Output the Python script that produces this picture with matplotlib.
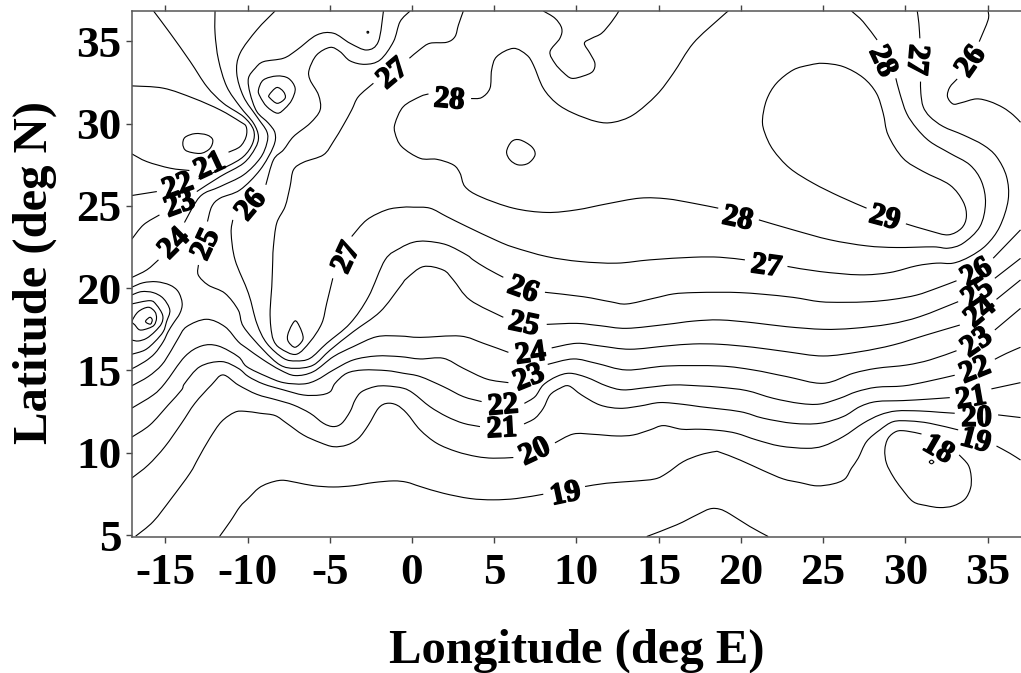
import matplotlib
matplotlib.use("Agg")
import matplotlib.pyplot as plt
from matplotlib.path import Path
from matplotlib.patches import PathPatch
import matplotlib.patheffects as pe

# ---- isotherm traces, (longitude deg E, latitude deg N), split where labels interrupt ----
t18_south = [(14.27,4.91),(16.09,5.62),(17.3,6.22),(18.11,6.59),(18.72,6.57),(19.33,6.28),(20.54,5.52),(21.66,4.91)]
t18_loop = [(30.98,11.14),(30.07,11.32),(29.46,11.30),(28.95,10.88),(28.75,10.17),(28.85,9.36),(29.26,8.55),(29.76,7.84),(30.47,7.03),(31.28,6.79),(32.09,6.67),(32.9,6.77),(33.61,7.17),(33.96,7.84),(34.0,8.55),(33.82,9.26),(33.27,9.87)]
t18_core = [(31.45,9.44),(31.59,9.55),(31.73,9.44),(31.59,9.33)]

t19_a = [(-11.71,4.91),(-11.06,5.82),(-10.46,6.73),(-9.95,7.24),(-9.34,7.84),(-8.73,8.15),(-7.92,8.33),(-7.01,8.19),(-6.0,8.0),(-4.78,7.92),(-3.57,8.0),(-2.35,8.19),(-1.13,8.29),(-0.32,8.21),(0.49,7.95),(1.9,7.54),(3.53,7.22),(4.94,7.14),(6.36,7.22),(7.98,7.48)]
t19_b = [(10.52,7.95),(11.83,8.15),(13.45,8.27),(14.77,8.41),(15.48,8.75),(16.49,9.46),(17.51,9.87),(18.42,10.07),(18.72,10.03),(19.94,9.56),(21.35,8.92),(22.57,8.41),(23.58,8.19),(24.6,7.99),(25.61,8.11),(26.32,8.41),(26.72,9.06),(27.13,9.67),(27.64,10.68),(28.45,11.39),(29.26,11.89),(30.27,11.93),(31.49,11.79),(33.21,11.39)]
t19_c = [(35.54,10.41),(36.35,9.97),(37.0,9.56)]

t20_a = [(-16.81,4.93),(-15.74,5.82),(-14.63,7.23),(-13.51,8.75),(-13.0,9.66),(-12.3,10.88),(-11.59,11.89),(-10.78,12.46),(-10.17,12.52),(-9.24,12.40),(-8.33,12.26),(-7.62,11.79),(-6.61,11.08),(-5.59,10.62),(-4.78,10.37),(-3.97,10.47),(-3.26,10.88),(-2.65,11.69),(-2.05,12.70),(-1.54,13.0),(-0.93,12.9),(-0.32,12.4),(0.49,11.39),(1.5,10.58),(2.71,10.07),(3.93,9.77),(4.94,9.67),(6.16,9.71)]
t20_b = [(8.69,10.6),(9.81,11.14),(11.02,11.12),(12.44,11.02),(13.45,11.08),(14.47,11.39),(15.28,11.65),(16.39,11.43),(17.51,11.43),(18.72,11.35),(19.73,11.18),(20.95,10.78),(22.37,10.41),(23.99,10.27),(25.0,10.41),(26.22,10.98),(27.43,11.79),(28.45,12.3),(29.46,12.54),(30.88,12.54),(32.09,12.46),(33.0,12.4)]
t20_c = [(35.64,12.3),(37.0,12.14)]

t21_a = [(-17.06,8.45),(-16.04,9.26),(-15.03,10.37),(-14.02,11.79),(-13.21,13.0),(-12.2,14.12),(-11.5,14.73),(-10.57,14.12),(-9.44,13.55),(-8.23,13.21),(-7.21,12.9),(-6.2,12.4),(-5.39,11.79),(-4.78,11.59),(-4.27,11.79),(-3.77,12.5),(-3.46,13.21),(-3.06,13.71),(-2.25,14.02),(-1.54,14.06),(-0.53,13.92),(0.08,13.61),(1.09,12.8),(2.11,12.2),(3.12,11.79),(4.13,11.59)]
t21_b = [(6.81,11.75),(7.48,12.1),(7.98,12.7),(8.39,13.51),(9.0,13.92),(9.54,14.06),(10.31,13.51),(11.43,12.9),(12.64,12.7),(13.86,12.84),(15.08,13.05),(16.49,12.94),(17.51,12.8),(19.94,12.5),(21.35,12.1),(23.18,11.79),(24.8,11.79),(26.22,12.2),(27.23,12.8),(28.24,13.11),(29.86,13.17),(31.28,13.25),(32.7,13.35)]
t21_c = [(35.23,13.88),(37.0,14.26)]
t21_d = [(-17.04,32.29),(-15.12,32.15),(-13.29,31.54),(-11.67,30.83),(-10.46,30.12),(-10.09,29.82),(-10.09,29.21),(-10.46,28.6),(-11.16,28.26)]
t21_e = [(-13.54,27.15),(-14.71,27.29),(-16.13,27.69),(-17.04,28.16)]

t22_a = [(-17.04,25.63),(-15.52,25.87)]
t22_b = [(-12.99,26.64),(-11.27,27.39),(-10.25,28.0),(-9.69,28.81),(-9.64,29.62),(-10.25,30.42),(-11.47,31.23),(-12.48,32.25),(-13.49,33.77),(-14.71,35.49),(-15.72,36.84)]
t22_c = [(-17.06,10.94),(-15.94,11.69),(-14.83,12.9),(-14.02,13.81),(-13.82,14.22),(-12.9,15.23),(-11.59,15.54),(-10.57,15.13),(-9.95,14.63),(-9.04,14.18),(-7.82,13.82),(-6.61,13.51),(-5.59,13.51),(-4.98,13.71),(-4.68,14.22),(-3.97,14.83),(-2.96,15.03),(-1.54,14.99),(-0.53,14.83),(0.49,14.63),(1.9,14.02),(3.12,13.41),(4.23,13.11)]
t22_d = [(6.83,13.0),(7.48,13.41),(7.98,14.12),(8.79,14.63),(9.6,14.83),(10.62,14.58),(11.83,14.06),(12.85,13.82),(14.27,13.96),(15.89,14.12),(17.51,14.06),(18.72,13.98),(20.34,13.78),(21.96,13.31),(23.58,13.0),(24.8,12.96),(26.01,13.31),(27.03,13.71),(28.24,13.98),(29.86,14.06),(31.28,14.32),(33.0,14.71)]
t22_e = [(35.44,15.68),(36.15,16.04),(37.0,16.41)]

t23_a = [(-17.04,22.98),(-16.33,23.85),(-15.36,24.45)]
t23_b = [(-13.09,25.87),(-11.67,26.78),(-10.25,27.59),(-9.54,28.5),(-9.34,29.21),(-9.64,30.02),(-10.46,31.03),(-11.27,32.25),(-11.77,33.87),(-11.98,35.49),(-11.98,36.84)]
t23_c = [(-17.06,12.7),(-15.74,13.51),(-15.03,14.22),(-13.82,15.84),(-12.8,16.49),(-11.79,16.49),(-10.57,15.84),(-10.05,15.23),(-8.83,14.63),(-7.82,14.26),(-6.61,14.18),(-5.8,14.42),(-4.78,15.03),(-3.57,15.64),(-2.15,15.88),(-0.73,15.84),(0.49,15.7),(1.9,15.74),(3.12,15.13),(4.54,14.48),(5.86,14.26)]
t23_d = [(8.25,15.37),(9.81,15.7),(11.23,15.43),(13.05,15.03),(15.48,15.27),(18.72,15.27),(20.75,15.03),(22.77,14.63),(25.0,14.22),(26.83,14.83),(28.24,15.13),(30.07,15.33),(31.49,15.64),(33.11,16.2)]
t23_e = [(35.44,17.46),(37.0,18.77)]

t24_a = [(-17.04,20.65),(-16.13,21.11),(-15.42,21.72)]
t24_b = [(-13.84,23.99),(-12.89,25.57),(-11.67,26.17),(-10.25,26.88),(-9.24,27.89),(-8.83,28.81),(-8.83,29.51),(-9.44,30.42),(-10.25,31.64),(-10.66,33.06),(-10.46,34.27),(-9.44,35.69),(-8.33,36.84)]
t24_c = [(-17.06,14.06),(-16.04,14.63),(-15.23,15.33),(-14.63,16.24),(-14.22,16.95),(-13.71,17.66),(-12.5,18.11),(-11.38,17.66),(-10.57,16.75),(-10.05,16.35),(-9.04,15.64),(-8.02,15.03),(-7.11,14.69),(-6.0,14.93),(-4.78,15.84),(-3.57,16.45),(-2.15,17.05),(-0.73,17.09),(0.49,17.01),(2.92,17.09),(4.34,16.65),(5.86,16.1)]
t24_d = [(8.49,16.37),(10.01,16.65),(11.43,16.49),(13.25,16.29),(15.48,16.49),(17.1,16.61),(18.72,16.59),(20.75,16.41),(22.77,16.14),(25.0,15.88),(27.23,16.14),(29.26,16.55),(31.28,17.16),(33.31,17.76)]
t24_e = [(35.54,19.32),(37.0,20.5)]

t25_a = [(-1.74,36.84),(-2.05,34.98),(-2.75,34.47),(-3.77,34.88),(-4.78,35.49),(-5.8,35.38),(-7.01,34.47),(-7.82,33.97),(-9.04,33.76),(-9.54,33.36),(-9.95,32.75),(-9.85,31.84),(-9.44,30.73),(-8.73,30.02),(-8.33,29.41),(-8.43,28.6),(-9.24,27.19),(-10.46,25.97),(-11.67,25.47),(-12.18,24.96),(-12.44,24.05)]
t25_b = [(-12.99,21.41),(-13.0,20.8),(-12.4,20.19),(-11.38,19.69),(-10.57,18.67),(-10.25,17.66),(-9.04,16.24),(-8.02,15.33),(-7.11,15.13),(-6.0,15.33),(-4.98,16.24),(-3.57,17.36),(-1.94,18.57),(-0.73,20.09),(-0.32,20.6),(0.69,21.31),(1.9,21.1),(2.51,20.5),(3.53,19.28),(5.55,18.23)]
t25_c = [(8.19,17.8),(10.01,17.86),(11.43,17.72),(13.05,17.56),(15.48,17.8),(17.1,18.0),(18.72,18.07),(20.75,17.9),(22.77,17.66),(25.0,17.5),(26.83,17.56),(29.05,17.82),(30.88,18.27),(33.21,19.18)]
t25_d = [(35.44,20.6),(37.0,21.81)]

t26_a = [(35.03,36.84),(35.03,36.3),(34.49,34.98)]
t26_b = [(33.15,32.71),(32.7,32.21),(32.56,31.64),(32.9,31.19),(33.41,31.27),(34.32,31.5),(35.13,31.34),(35.94,30.97),(36.55,30.53),(37.0,30.08)]
t26_c = [(37.0,23.54),(35.34,21.82)]
t26_d = [(33.11,20.45),(31.89,19.99),(30.68,19.58),(29.26,19.32),(27.84,19.18),(26.22,19.14),(24.8,19.18),(23.18,19.44),(21.35,19.63),(19.94,19.73),(18.72,19.75),(17.1,19.73),(15.89,19.65),(14.67,19.38),(13.05,19.04),(12.04,19.18),(10.41,19.48),(8.08,19.75)]
t26_e = [(5.55,20.66),(4.54,21.2),(3.73,21.71),(3.32,22.02),(2.11,22.63),(0.89,22.85),(0.08,22.79),(-0.73,22.43),(-1.64,21.72),(-2.65,19.48),(-3.77,17.86),(-5.19,16.65),(-6.2,15.74),(-7.05,15.58),(-7.82,15.74),(-8.83,16.65),(-9.44,17.86),(-9.95,19.69),(-10.76,21.71),(-11.0,23.34),(-10.9,24.15)]
t26_f = [(-8.89,26.28),(-8.43,27.79),(-7.82,28.4),(-7.21,29.21),(-6.2,30.02),(-5.59,30.83),(-5.69,31.74),(-6.2,32.65),(-6.26,33.26),(-5.8,34.17),(-4.98,34.63),(-4.38,34.37),(-3.77,33.81),(-2.86,33.6),(-1.94,33.87),(-1.13,34.98),(-0.73,36.19),(-0.12,36.84)]

t27_a = [(3.12,36.84),(2.82,35.99),(2.61,35.28),(2.11,34.94),(1.09,34.88),(0.49,34.51),(-0.16,33.97)]
t27_b = [(-2.35,32.45),(-3.26,31.64),(-3.67,30.83),(-4.17,29.92),(-4.78,28.91),(-5.39,28.1),(-6.6,27.65),(-7.21,27.19),(-7.42,26.17),(-7.72,24.96),(-8.23,23.95),(-8.43,22.53),(-8.47,21.72),(-8.53,20.09),(-8.63,18.67),(-8.59,17.66),(-8.43,16.85),(-8.02,16.35),(-7.05,15.98),(-6.2,16.75),(-5.49,17.86),(-5.19,19.08),(-4.82,20.6)]
t27_c = [(-3.67,23.14),(-2.75,24.15),(-1.54,24.76),(-0.53,24.92),(0.08,24.92),(1.09,24.86),(2.11,24.35),(3.32,23.75),(5.15,22.89),(6.16,22.49),(8.19,21.92),(10.21,21.62),(12.44,21.52),(14.47,21.72),(17.1,21.88),(18.72,21.88),(20.24,21.72)]
t27_d = [(22.83,21.32),(24.8,21.01),(27.23,20.81),(29.05,20.95),(30.68,21.36),(31.89,21.52),(32.9,21.52),(33.92,21.92),(34.93,22.63),(35.74,23.74),(36.25,25.36),(36.15,26.78),(35.54,27.99),(34.73,28.7),(33.51,29.31),(32.3,29.82),(31.49,30.42),(31.08,31.03),(30.94,31.84),(30.92,32.55)]
t27_e = [(30.88,35.18),(30.82,36.09),(30.72,36.84)]

t28_a = [(3.59,31.52),(4.23,31.58),(4.74,32.15),(4.84,33.26),(5.15,34.07),(6.16,34.57),(6.97,34.17),(7.38,33.56),(7.98,32.15),(8.79,31.23),(9.81,30.63),(11.23,30.12),(12.24,30.08),(13.45,30.53),(14.87,31.74),(15.89,33.06),(17.1,34.88),(18.72,36.4),(19.23,36.84)]
t28_b = [(1.0,31.8),(0.49,31.64),(-0.53,31.03),(-1.03,30.02),(-1.03,29.41),(-0.63,28.6),(0.49,27.89),(1.5,27.83),(2.51,27.49),(2.92,26.98),(3.22,26.17),(4.13,25.57),(6.16,24.86),(8.19,24.6),(10.01,24.76),(11.83,25.12),(13.86,25.47),(15.48,25.43),(17.1,25.16),(18.62,24.86)]
t28_c = [(21.09,24.15),(23.18,23.54),(25.41,22.94),(27.64,22.57),(29.46,22.47),(31.69,22.51),(32.6,22.43),(33.51,22.73),(34.53,23.74),(34.87,25.16),(34.63,26.48),(33.92,27.49),(32.7,28.2),(31.49,28.91),(30.68,29.72),(30.07,30.63),(29.66,31.84),(29.42,32.75)]
t28_d = [(28.28,35.08),(27.43,36.19),(26.72,36.84)]
t28_top = [(7.98,36.84),(8.69,36.4),(9.1,35.79),(8.99,35.18),(8.39,34.37),(8.69,33.66),(9.2,33.1),(9.71,32.75),(10.41,32.89),(10.98,33.16),(11.12,33.66),(10.82,34.27),(10.48,34.88),(10.92,35.18),(11.53,35.49),(12.14,36.19),(12.58,36.84)]

t29_a = [(27.64,24.86),(26.01,25.57),(24.39,26.38),(22.97,27.29),(21.96,28.4),(21.46,29.41),(21.31,30.22),(21.56,31.44),(22.16,32.45),(23.18,33.26),(24.19,33.56),(25.0,33.66),(26.22,33.46),(27.43,32.79),(28.24,31.84),(28.65,30.63),(28.95,29.31),(29.86,27.89),(31.08,27.09),(32.7,26.27),(33.51,25.26),(33.71,24.35),(33.41,23.64),(32.6,23.24),(31.49,23.48),(30.03,23.91)]

peak_w_1 = [(-17.06,20.05),(-16.35,20.33),(-15.54,20.39),(-14.73,20.19),(-14.22,19.79),(-13.98,19.08),(-14.12,18.47),(-14.52,17.86),(-14.83,17.36),(-15.13,16.75),(-15.64,16.04),(-16.25,15.54),(-17.06,15.09)]
peak_w_2 = [(-17.06,19.58),(-16.45,19.79),(-15.74,19.73),(-15.13,19.38),(-14.73,18.67),(-14.93,17.96),(-15.13,17.36),(-15.64,16.75),(-16.25,16.24),(-17.06,15.98)]
peak_w_3 = [(-17.06,19.04),(-15.94,19.24),(-15.54,18.98),(-15.17,18.37),(-15.23,17.86),(-15.64,17.36),(-16.15,16.95),(-16.65,16.79),(-17.06,16.85)]

# closed contours
ring_w_4 = [(-17.02,18.0),(-16.65,18.57),(-16.04,18.84),(-15.64,18.57),(-15.54,18.17),(-15.68,17.76),(-16.04,17.56),(-16.55,17.46),(-16.85,17.76)]
ring_w_5 = [(-16.19,18.03),(-15.94,18.23),(-15.8,18.07),(-15.9,17.82),(-16.15,17.9)]
ring_teardrop = [(-7.05,18.0),(-6.71,17.36),(-6.65,16.85),(-7.11,16.41),(-7.52,16.75),(-7.56,17.16),(-7.31,17.76)]
ring_atlas_outer = [(-9.34,32.04),(-9.04,32.65),(-8.23,32.89),(-7.52,32.75),(-7.11,32.15),(-7.31,31.44),(-7.72,30.93),(-8.19,30.63),(-8.83,31.03),(-9.24,31.64)]
ring_atlas_inner = [(-8.69,31.74),(-8.23,32.19),(-7.82,31.94),(-7.72,31.54),(-8.19,31.23),(-8.63,31.54)]
ring_coast = [(-13.94,28.77),(-13.8,29.17),(-13.19,29.39),(-12.48,29.31),(-12.12,29.01),(-12.28,28.5),(-12.79,28.2),(-13.39,28.24),(-13.8,28.4)]
ring_hoggar = [(5.75,28.3),(6.06,28.91),(6.56,29.01),(7.27,28.6),(7.48,28.1),(7.07,27.59),(6.46,27.49),(5.96,27.79)]
ring_dot = [(-2.75,35.55),(-2.69,35.61),(-2.63,35.55),(-2.69,35.49)]

open_traces = [t18_south, t18_loop, t19_a, t19_b, t19_c, t20_a, t20_b, t20_c,
               t21_a, t21_b, t21_c, t21_d, t21_e, t22_a, t22_b, t22_c, t22_d, t22_e,
               t23_a, t23_b, t23_c, t23_d, t23_e, t24_a, t24_b, t24_c, t24_d, t24_e,
               t25_a, t25_b, t25_c, t25_d, t26_a, t26_b, t26_c, t26_d, t26_e, t26_f,
               t27_a, t27_b, t27_c, t27_d, t27_e, t28_a, t28_b, t28_c, t28_d, t28_top, t29_a,
               peak_w_1, peak_w_2, peak_w_3]
closed_traces = [t18_core, ring_w_4, ring_w_5, ring_teardrop, ring_atlas_outer,
                 ring_atlas_inner, ring_coast, ring_hoggar, ring_dot]

# contour labels
label_text = ["21","22","23","24","25","26","27","27","28","26","25","24","23","22","21","20","19",
              "28","27","29","28","27","26","26","25","24","23","22","21","20","19","18"]
label_lon = [-12.38,-14.31,-14.2,-14.61,-12.72,-9.95,-4.17,-1.3,2.27,6.81,6.83,7.17,7.03,5.51,5.45,7.38,9.3,
             19.83,21.56,28.79,28.79,30.88,33.82,34.22,34.28,34.42,34.22,34.16,33.96,34.32,34.32,32.09]
label_lat = [27.59,26.38,25.26,22.83,22.73,25.16,21.92,33.16,31.64,20.09,18.0,16.2,14.73,13.05,11.65,10.23,7.68,
             24.41,21.52,24.45,33.87,33.87,33.87,21.1,19.85,18.67,16.85,15.19,13.51,12.3,10.92,10.37]
label_rot = [25,20,20,45,65,50,65,40,-5,-20,-12,8,22,5,3,25,12,
             -12,-8,-15,-65,-95,55,30,35,40,35,22,10,0,-15,-30]

x_ticks = [-15,-10,-5,0,5,10,15,20,25,30,35]
x_tick_labels = ["-15","-10","-5","0","5","10","15","20","25","30","35"]
y_ticks = [5,10,15,20,25,30,35]
y_tick_labels = ["5","10","15","20","25","30","35"]


def smooth_path(points, closed=False):
    """Catmull-Rom curve through the traced points, as Bezier segments."""
    n = len(points)
    def p(i):
        return points[i % n] if closed else points[max(0, min(n - 1, i))]
    verts = [points[0]]
    codes = [Path.MOVETO]
    for i in range(n if closed else n - 1):
        p0, p1, p2, p3 = p(i - 1), p(i), p(i + 1), p(i + 2)
        verts.append((p1[0] + (p2[0] - p0[0]) / 6, p1[1] + (p2[1] - p0[1]) / 6))
        verts.append((p2[0] - (p3[0] - p1[0]) / 6, p2[1] - (p3[1] - p1[1]) / 6))
        verts.append(p2)
        codes += [Path.CURVE4] * 3
    return Path(verts, codes)


plt.rcParams["font.family"] = "Liberation Serif"
plt.rcParams["font.weight"] = "bold"

fig = plt.figure(figsize=(10.21, 6.73), dpi=100)
ax = fig.add_axes([132 / 1021, 1 - 536.7 / 673, 888.5 / 1021, (536.7 - 11) / 673])
ax.set_xlim(-17.03, 37.0)
ax.set_ylim(4.9, 36.84)

for trace in open_traces:
    ax.add_patch(PathPatch(smooth_path(trace), fill=False, edgecolor="black", lw=0.8))
for trace in closed_traces:
    ax.add_patch(PathPatch(smooth_path(trace, closed=True), fill=False, edgecolor="black", lw=0.8))

halo = [pe.withStroke(linewidth=1.1, foreground="black")]
for txt, lo, la, rot in zip(label_text, label_lon, label_lat, label_rot):
    ax.text(lo, la, txt, fontsize=22, fontweight="bold", ha="center", va="center_baseline",
            rotation=rot, rotation_mode="anchor", color="black", path_effects=halo)

ax.set_xticks(x_ticks, x_tick_labels)
ax.set_yticks(y_ticks, y_tick_labels)
ax.tick_params(axis="both", which="major", labelsize=32.5, width=1, length=4.5, color="#444444", pad=3)
ax.tick_params(axis="x", top=True, pad=7)
for side in ("top", "bottom", "left"):
    ax.spines[side].set_color("#555555")
    ax.spines[side].set_linewidth(1.1)
ax.spines["right"].set_visible(False)

ax.set_xlabel("Longitude (deg E)", fontsize=35, fontweight="bold", va="center")
ax.xaxis.set_label_coords((577 - 132) / 888.5, -(651 - 536.7) / 525.7)
ax.set_ylabel("Latitude (deg N)", fontsize=35, fontweight="bold", va="center")
ax.yaxis.set_label_coords(-(132 - 35) / 888.5, (536.7 - 273) / 525.7)

fig.savefig("out.png", dpi=100)
